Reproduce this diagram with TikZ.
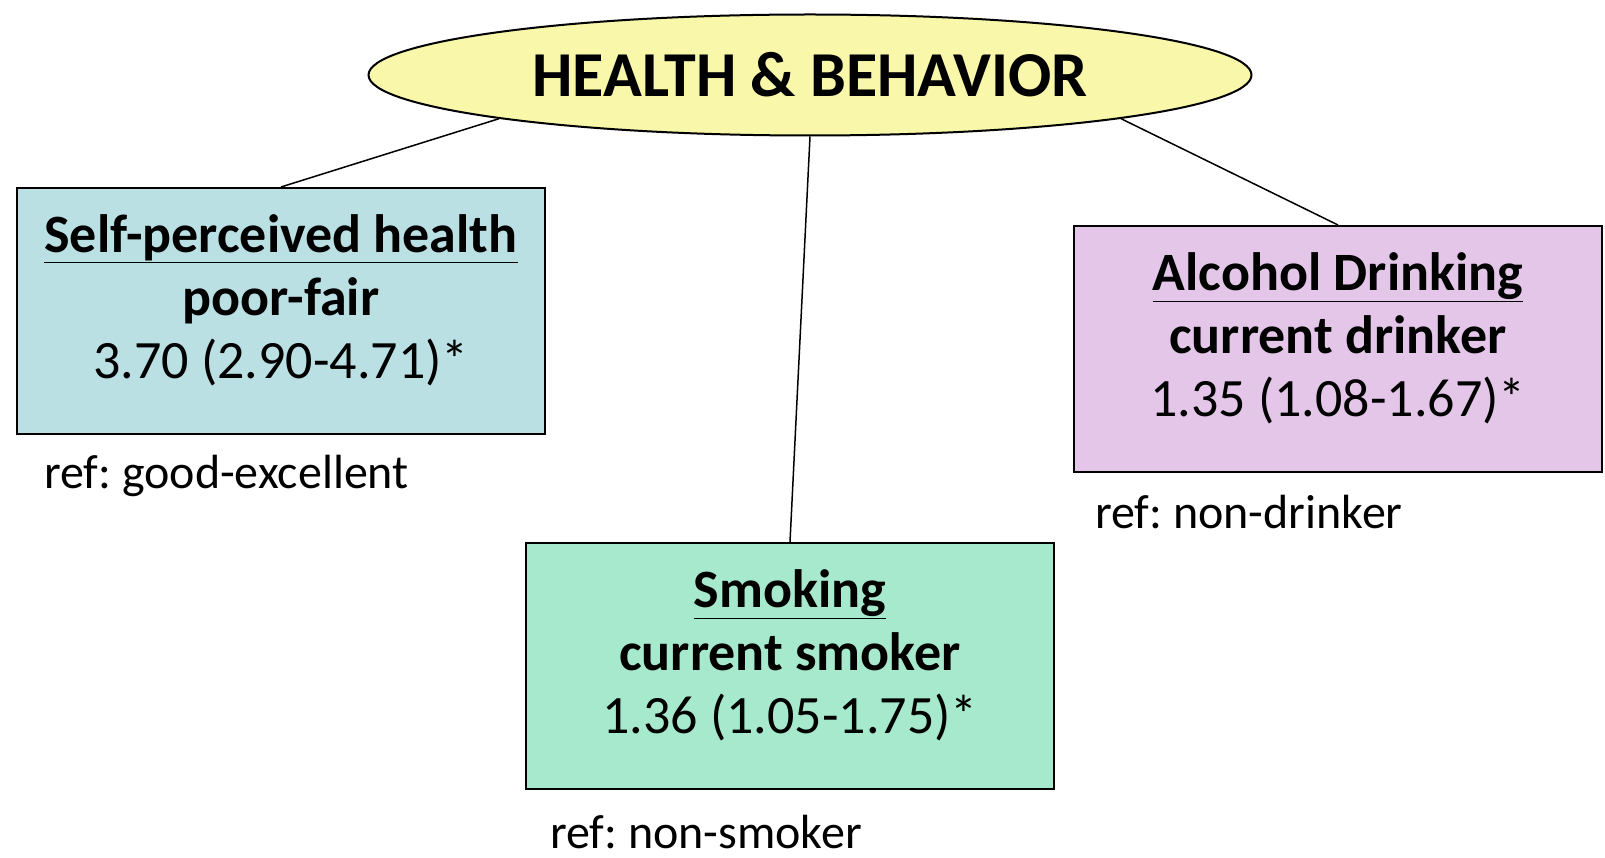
\documentclass[tikz,border=0pt]{standalone}
\usepackage{fontspec}
\setmainfont{Carlito}
\usepackage{tikz}
\usetikzlibrary{shapes.geometric}
\frenchspacing

\definecolor{titleyellow}{RGB}{249,247,169}
\definecolor{healthblue}{RGB}{186,224,228}
\definecolor{alcoholpurple}{RGB}{227,198,232}
\definecolor{smokegreen}{RGB}{166,233,204}

\begin{document}
\begin{tikzpicture}[
		x=1pt, y=-1pt,
		topic/.style={ellipse, draw, line width=2pt, fill=titleyellow, inner sep=0pt,
			minimum width=883pt, minimum height=121pt,
			font=\fontsize{64}{77}\selectfont\bfseries},
		factor/.style={rectangle, draw, line width=2pt, inner sep=0pt,
			minimum width=528pt, minimum height=246pt},
		factortext/.style={align=center, inner sep=0pt, font=\fontsize{54}{63}\selectfont},
		reflabel/.style={anchor=west, inner sep=0pt, font=\fontsize{48}{58}\selectfont},
		link/.style={line width=1.5pt}
		]
		\useasboundingbox (0,0) rectangle (1605,858);
		\node[topic] (topic) at (810,75) {HEALTH \& BEHAVIOR};
		% the three factors
		\node[factor, fill=healthblue] (health) at (281,311) {};
		\node[factor, fill=alcoholpurple] (alcohol) at (1338,349) {};
		\node[factor, fill=smokegreen] (smoke) at (790,666) {};
		\node[factortext] (healthtext) at ([yshift=11pt]health.center)
			{\textbf{\underline{Self-perceived health}}\\ \textbf{poor-fair}\\ 3.70 (2.90-4.71)*};
		\node[factortext] (alcoholtext) at ([yshift=11pt]alcohol.center)
			{\textbf{\underline{Alcohol Drinking}}\\ \textbf{current drinker}\\ 1.35 (1.08-1.67)*};
		\node[factortext] (smoketext) at ([yshift=11pt]smoke.center)
			{\textbf{\underline{Smoking}}\\ \textbf{current smoker}\\ 1.36 (1.05-1.75)*};
		% reference categories
		\node[reflabel] (healthref) at (44,476) {ref: good-excellent};
		\node[reflabel] (alcoholref) at (1095,512) {ref: non-drinker};
		\node[reflabel] (smokeref) at (550,832) {ref: non-smoker};
		% links
		\draw[link] (topic.188) -- (health.north);
		\draw[link] (topic.south) -- (smoke.north);
		\draw[link] (topic.352) -- (alcohol.north);
\end{tikzpicture}
\end{document}
